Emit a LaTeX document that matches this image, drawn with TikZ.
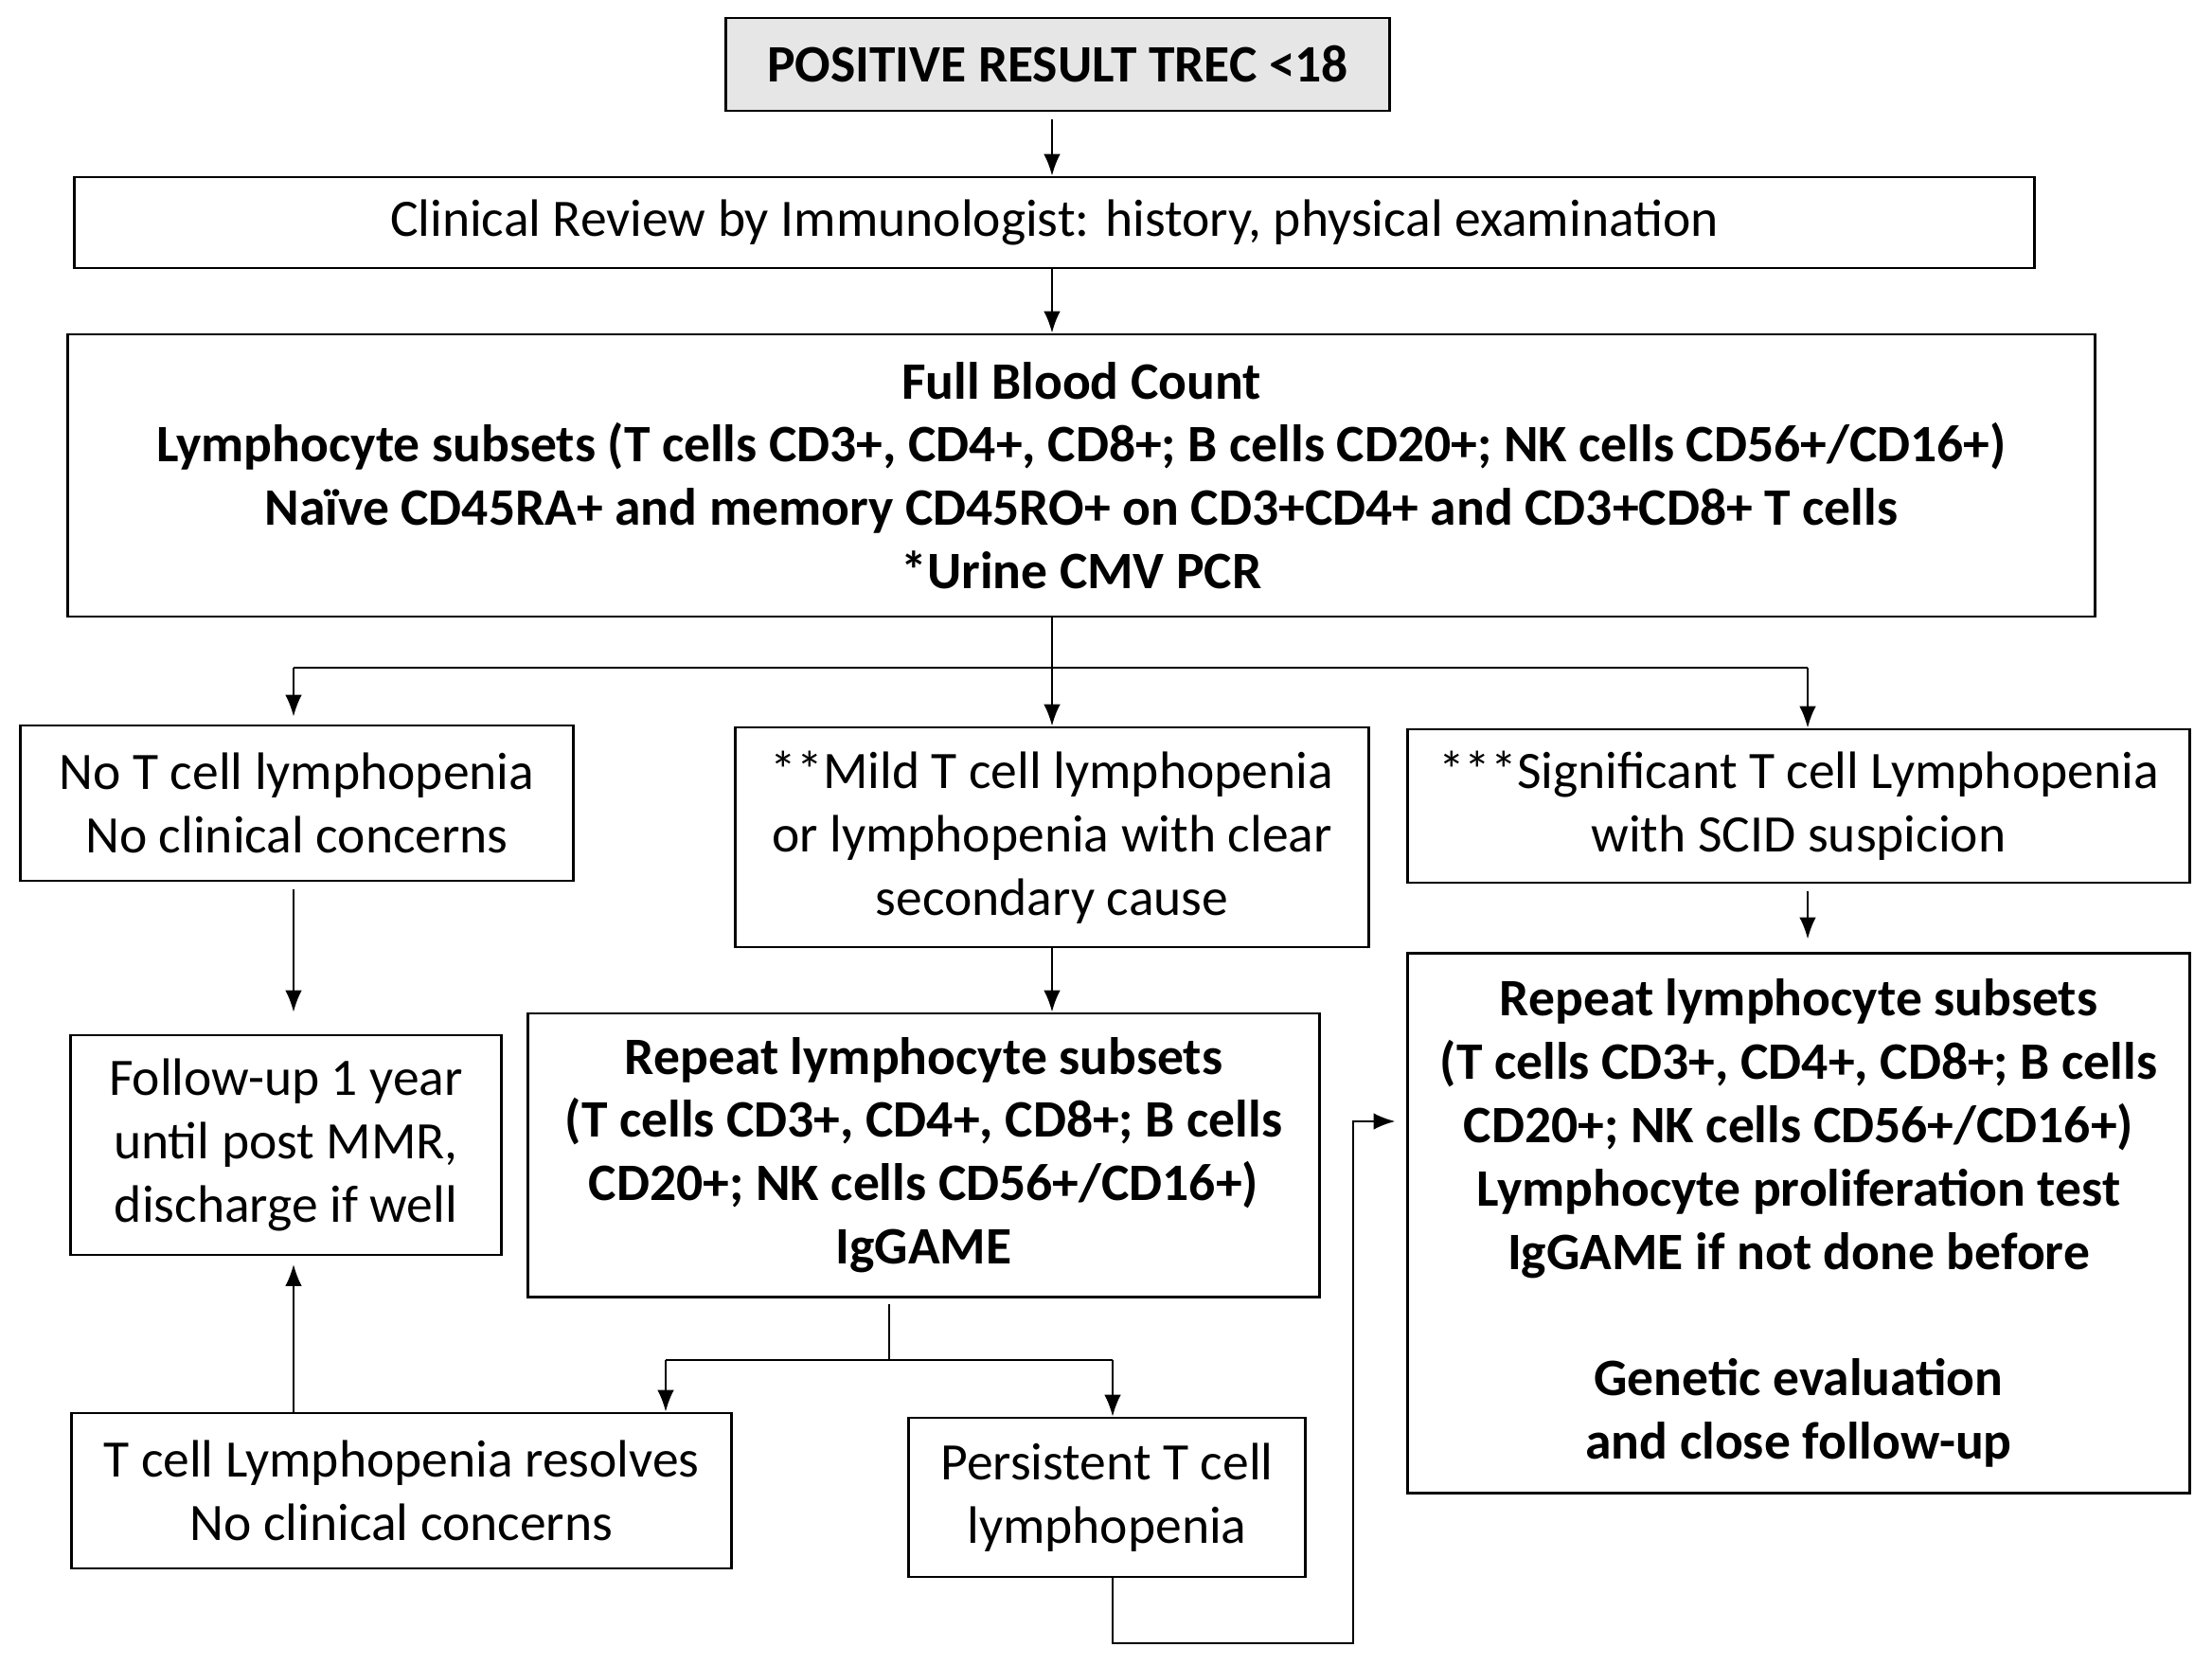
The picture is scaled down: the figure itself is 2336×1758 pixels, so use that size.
\documentclass[tikz,border=0pt]{standalone}
\usepackage{fontspec}
\setmainfont{Carlito}
\usetikzlibrary{arrows.meta}
\definecolor{topgray}{HTML}{E6E6E6}
\begin{document}
\begin{tikzpicture}[x=0.01cm,y=-0.01cm,
  box/.style={draw, line width=0.8pt, align=center, inner sep=0pt, font=\fontsize{15.8pt}{19pt}\selectfont},
  bbox/.style={box, font=\fontsize{15.8pt}{19pt}\selectfont\bfseries},
  arr/.style={-{Latex[length=6.5pt,width=5pt]}, line width=0.6pt},
  ln/.style={line width=0.6pt}]
\useasboundingbox (0,0) rectangle (2336,1758);
\fill[white] (0,0) rectangle (2336,1758);

\node[bbox, fill=topgray, minimum width=7.00cm, minimum height=0.98cm] (top) at (1117,68) {POSITIVE RESULT TREC <18};
\node[box, minimum width=20.69cm, minimum height=0.96cm] (clin) at (1113.5,235) {Clinical Review by Immunologist: history, physical examination};
\node[bbox, minimum width=21.40cm, minimum height=2.98cm] (fbc) at (1142,502) {Full Blood Count\\Lymphocyte subsets (T cells CD3+, CD4+, CD8+; B cells CD20+; NK cells CD56+/CD16+)\\Naïve CD45RA+ and memory CD45RO+ on CD3+CD4+ and CD3+CD8+ T cells\\*Urine CMV PCR};
\node[box, minimum width=5.83cm, minimum height=1.64cm] (noT) at (313.5,848) {No T cell lymphopenia\\No clinical concerns};
\node[box, minimum width=6.68cm, minimum height=2.32cm] (mild) at (1111,884) {**Mild T cell lymphopenia\\or lymphopenia with clear\\secondary cause};
\node[box, minimum width=8.25cm, minimum height=1.62cm] (sig) at (1899.5,851) {***Significant T cell Lymphopenia\\with SCID suspicion};
\node[box, minimum width=4.54cm, minimum height=2.32cm] (fol) at (302,1209) {Follow-up 1 year\\until post MMR,\\discharge if well};
\node[bbox, minimum width=8.35cm, minimum height=2.99cm] (repM) at (975.5,1219.5) {Repeat lymphocyte subsets\\(T cells CD3+, CD4+, CD8+; B cells\\CD20+; NK cells CD56+/CD16+)\\IgGAME};
\node[bbox, minimum width=8.25cm, minimum height=5.69cm] (repR) at (1899.5,1291.5) {Repeat lymphocyte subsets\\(T cells CD3+, CD4+, CD8+; B cells\\CD20+; NK cells CD56+/CD16+)\\Lymphocyte proliferation test\\IgGAME if not done before\\[19pt]Genetic evaluation\\and close follow-up};
\node[box, minimum width=6.96cm, minimum height=1.64cm] (res) at (424,1574) {T cell Lymphopenia resolves\\No clinical concerns};
\node[box, minimum width=4.18cm, minimum height=1.68cm] (per) at (1169,1581) {Persistent T cell\\lymphopenia};

% coordinates
\coordinate (b1) at (1111,705);
\coordinate (bl) at (310,705);
\coordinate (br) at (1909,705);
\coordinate (s1) at (939,1436);
\coordinate (s2) at (703,1436);
\coordinate (s3) at (1175,1436);
\coordinate (p1) at (1175,1735);
\coordinate (p2) at (1429,1735);
\coordinate (p3) at (1429,1184);
\coordinate (f1) at (310,1325);

% connectors
\draw[arr, shorten <=0.08cm] (top.south -| b1) -- (clin.north -| b1);
\draw[arr] (clin.south -| b1) -- (fbc.north -| b1);
\draw[ln] (fbc.south -| b1) -- (b1);
\draw[ln] (bl) -- (br);
\draw[arr, shorten >=0.08cm] (bl) -- (noT.north -| bl);
\draw[arr] (b1) -- (mild.north);
\draw[arr] (br) -- (sig.north -| br);
\draw[arr, shorten <=0.08cm, shorten >=0.23cm] (noT.south -| bl) -- (fol.north -| bl);
\draw[arr] (mild.south) -- (repM.north -| mild.south);
\draw[arr, shorten <=0.08cm, shorten >=0.14cm] (sig.south -| br) -- (repR.north -| br);
\draw[ln, shorten <=0.06cm] (repM.south -| s1) -- (s1);
\draw[ln] (s2) -- (s3);
\draw[arr] (s2) -- (res.north -| s2);
\draw[arr] (s3) -- (per.north -| s3);
\draw[arr, shorten >=0.10cm] (res.north -| f1) -- (f1);
\draw[arr, shorten >=0.12cm] (per.south -| p1) -- (p1) -- (p2) -- (p3) -- (p3 -| repR.west);
\end{tikzpicture}
\end{document}
